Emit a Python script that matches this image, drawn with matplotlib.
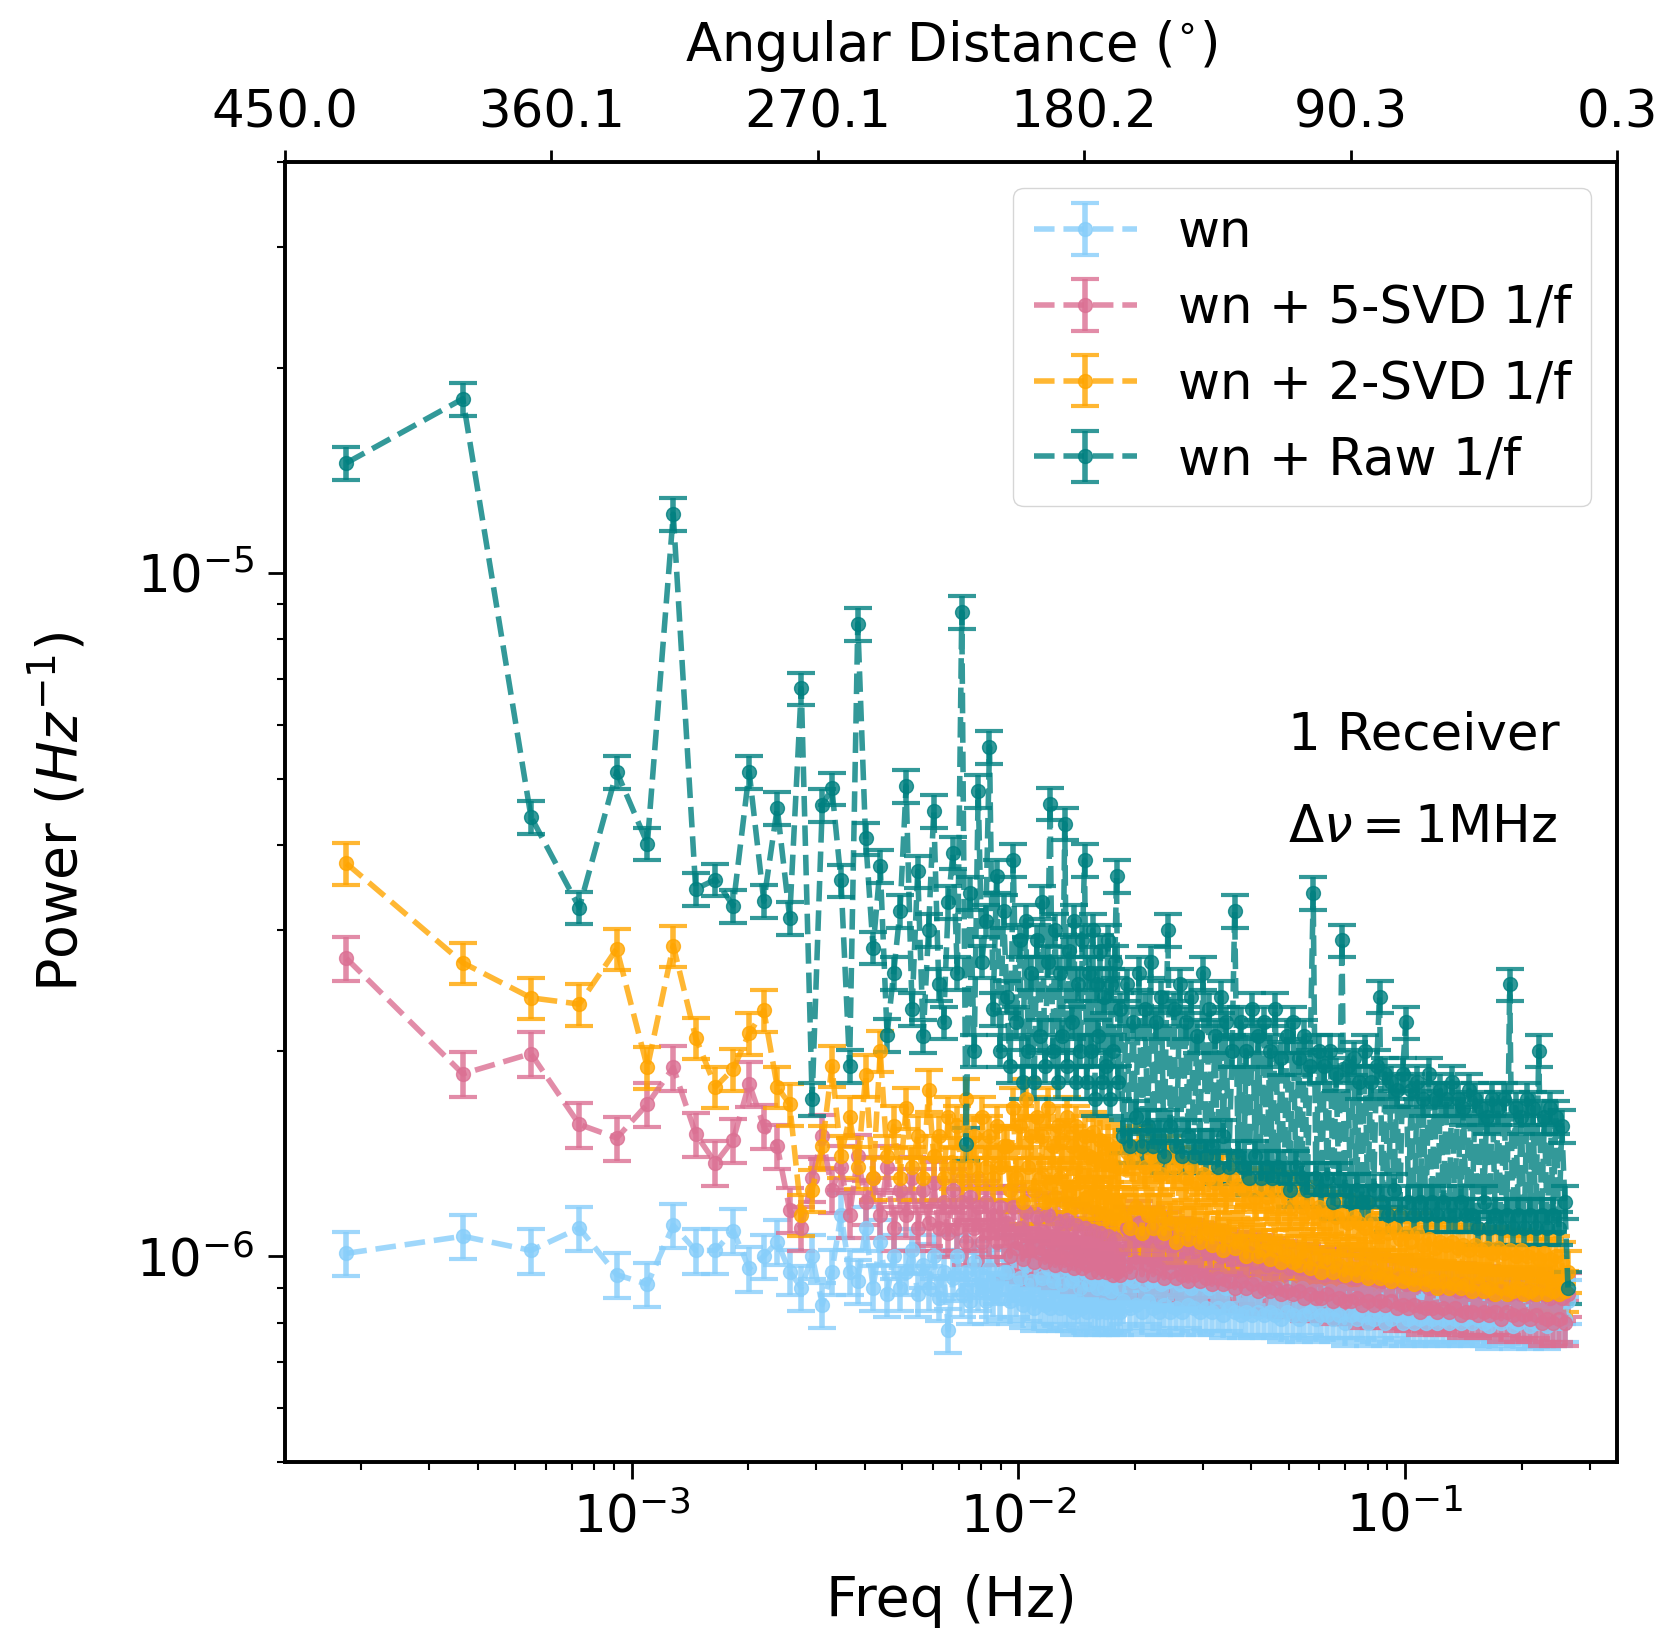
import numpy as np
import matplotlib
matplotlib.use('Agg')
import matplotlib.pyplot as plt

# frequency grid: index k of the FFT bin, f = k * df
df = 1.83e-4  # Hz
k_idx = [1, 2, 3, 4, 5, 6, 7, 8, 9, 10,
         11, 12, 13, 14, 15, 16, 17, 18, 19, 20,
         21, 22, 23, 24, 25, 26, 27, 28, 29, 30,
         31, 32, 33, 34, 35, 36, 37, 38, 39, 40,
         41, 42, 43, 44, 45, 46, 47, 48, 49, 50,
         51, 52, 53, 54, 55, 56, 57, 58, 59, 60,
         61, 62, 63, 64, 65, 66, 67, 68, 69, 70,
         71, 72, 73, 74, 75, 76, 77, 78, 79, 80,
         81, 82, 83, 84, 85, 86, 87, 88, 89, 90,
         91, 92, 93, 94, 95, 96, 97, 98, 99, 100,
         102, 104, 106, 108, 110, 112, 114, 116, 118, 120,
         122, 124, 126, 128, 130, 133, 135, 138, 140, 143,
         145, 148, 150, 153, 155, 158, 161, 164, 167, 170,
         173, 176, 179, 182, 185, 188, 191, 195, 198, 202,
         205, 209, 212, 216, 220, 224, 228, 232, 236, 240,
         244, 248, 252, 257, 261, 266, 270, 275, 280, 285,
         290, 295, 300, 305, 310, 316, 321, 327, 332, 338,
         344, 350, 356, 362, 368, 375, 381, 388, 395, 402,
         409, 416, 423, 430, 437, 445, 453, 461, 469, 477,
         485, 494, 502, 511, 520, 529, 538, 548, 557, 567,
         577, 587, 597, 608, 618, 629, 640, 651, 662, 674,
         686, 698, 710, 722, 734, 747, 760, 773, 786, 800,
         814, 828, 842, 857, 872, 887, 902, 918, 934, 950,
         967, 984, 1001, 1018, 1036, 1054, 1072, 1091, 1110, 1129,
         1149, 1169, 1189, 1210, 1231, 1252, 1274, 1296, 1318, 1341,
         1364, 1388, 1414, 1440]

# power in units of 1e-6 Hz^-1
p_wn = [1.01, 1.07, 1.02, 1.10, 0.94, 0.91, 1.11, 1.02, 1.02, 1.09,
        0.96, 1.00, 1.05, 0.95, 0.90, 1.00, 0.85, 0.95, 1.15, 0.95,
        0.92, 1.10, 0.90, 1.05, 0.88, 1.00, 0.90, 0.95, 1.02, 0.88,
        0.97, 0.90, 1.00, 0.87, 0.95, 0.78, 0.93, 1.00, 0.88, 0.95,
        0.86, 0.98, 0.90, 0.94, 0.86, 0.96, 0.88, 0.92, 0.87, 0.95,
        0.95, 0.86, 1.00, 0.88, 0.93, 0.85, 0.97, 0.87, 0.92, 0.84,
        0.98, 0.86, 0.93, 0.85, 0.96, 0.84, 0.92, 0.86, 0.95, 0.84,
        0.91, 0.85, 0.96, 0.84, 0.92, 0.83, 0.94, 0.86, 0.90, 0.84,
        0.95, 0.83, 0.91, 0.85, 0.93, 0.84, 0.90, 0.83, 0.94, 0.85,
        0.90, 0.83, 0.92, 0.84, 0.89, 0.83, 0.93, 0.84, 0.90, 0.83,
        0.86, 0.93, 0.84, 0.92, 0.85, 0.94, 0.83, 0.91, 0.86, 0.92,
        0.84, 0.93, 0.83, 0.91, 0.85, 0.92, 0.83, 0.94, 0.84, 0.91,
        0.83, 0.92, 0.85, 0.90, 0.84, 0.92, 0.83, 0.91, 0.84, 0.90,
        0.83, 0.91, 0.84, 0.92, 0.82, 0.90, 0.84, 0.91, 0.83, 0.90,
        0.82, 0.91, 0.83, 0.90, 0.82, 0.91, 0.83, 0.89, 0.82, 0.90,
        0.83, 0.89, 0.82, 0.90, 0.81, 0.89, 0.83, 0.90, 0.82, 0.89,
        0.81, 0.90, 0.82, 0.88, 0.83, 0.89, 0.81, 0.89, 0.82, 0.88,
        0.82, 0.89, 0.81, 0.88, 0.82, 0.89, 0.80, 0.88, 0.82, 0.88,
        0.81, 0.88, 0.82, 0.89, 0.80, 0.88, 0.81, 0.87, 0.82, 0.88,
        0.80, 0.88, 0.81, 0.87, 0.82, 0.88, 0.80, 0.87, 0.81, 0.88,
        0.80, 0.87, 0.81, 0.88, 0.80, 0.87, 0.81, 0.86, 0.80, 0.87,
        0.81, 0.87, 0.80, 0.88, 0.81, 0.86, 0.80, 0.87, 0.81, 0.86,
        0.80, 0.87, 0.81, 0.86, 0.80, 0.87, 0.79, 0.86, 0.81, 0.87,
        0.80, 0.86, 0.81, 0.87, 0.79, 0.86, 0.80, 0.87, 0.81, 0.86,
        0.79, 0.86, 0.80, 0.87, 0.80, 0.86, 0.79, 0.86, 0.80, 0.85,
        0.80, 0.86, 0.81, 0.86]

p_svd5 = [2.73, 1.85, 1.98, 1.56, 1.49, 1.67, 1.89, 1.51, 1.37, 1.48,
          1.79, 1.55, 1.45, 1.17, 1.10, 1.30, 1.50, 1.25, 1.35, 1.15,
          1.40, 1.20, 1.30, 1.15, 1.35, 1.10, 1.25, 1.15, 1.30, 1.10,
          1.25, 1.12, 1.28, 1.10, 1.20, 1.08, 1.25, 1.10, 1.20, 1.05,
          1.22, 1.10, 1.18, 1.05, 1.20, 1.08, 1.15, 1.05, 1.18, 1.08,
          1.12, 1.00, 1.18, 1.03, 1.10, 0.99, 1.16, 1.02, 1.08, 0.98,
          1.14, 1.01, 1.09, 0.98, 1.15, 1.00, 1.07, 0.97, 1.12, 1.00,
          1.08, 0.97, 1.13, 0.99, 1.06, 0.96, 1.11, 0.99, 1.05, 0.96,
          1.10, 0.97, 1.05, 0.95, 1.09, 0.98, 1.04, 0.95, 1.08, 0.96,
          1.03, 0.95, 1.07, 0.96, 1.02, 0.94, 1.06, 0.95, 1.01, 0.94,
          0.97, 1.10, 0.95, 1.08, 0.98, 1.12, 0.94, 1.06, 0.97, 1.10,
          0.94, 1.07, 0.96, 1.05, 0.93, 1.08, 0.95, 1.04, 0.93, 1.06,
          0.94, 1.03, 0.92, 1.05, 0.94, 1.02, 0.92, 1.04, 0.93, 1.01,
          0.91, 1.03, 0.93, 1.00, 0.91, 1.02, 0.92, 0.99, 0.90, 1.01,
          0.92, 0.99, 0.90, 1.01, 0.91, 0.98, 0.89, 1.00, 0.90, 0.97,
          0.89, 0.99, 0.90, 0.97, 0.88, 0.98, 0.89, 0.96, 0.88, 0.97,
          0.89, 0.96, 0.87, 0.97, 0.88, 0.95, 0.87, 0.96, 0.87, 0.94,
          0.88, 0.95, 0.86, 0.96, 0.87, 0.94, 0.86, 0.95, 0.86, 0.93,
          0.87, 0.94, 0.85, 0.95, 0.86, 0.93, 0.85, 0.94, 0.86, 0.92,
          0.85, 0.93, 0.86, 0.92, 0.84, 0.93, 0.85, 0.91, 0.84, 0.92,
          0.85, 0.91, 0.83, 0.92, 0.84, 0.90, 0.84, 0.91, 0.83, 0.90,
          0.84, 0.91, 0.83, 0.90, 0.84, 0.89, 0.82, 0.91, 0.83, 0.89,
          0.83, 0.90, 0.82, 0.89, 0.83, 0.90, 0.82, 0.88, 0.83, 0.89,
          0.81, 0.89, 0.83, 0.88, 0.82, 0.89, 0.81, 0.88, 0.82, 0.89,
          0.81, 0.88, 0.82, 0.89, 0.80, 0.88, 0.81, 0.87, 0.80, 0.88,
          0.81, 0.87, 0.80, 0.88]

p_svd2 = [3.76, 2.69, 2.39, 2.34, 2.82, 1.89, 2.85, 2.09, 1.77, 1.88,
          2.12, 2.29, 1.77, 1.67, 1.15, 1.25, 1.45, 1.90, 1.40, 1.60,
          1.35, 1.84, 1.30, 2.00, 1.40, 1.55, 1.30, 1.65, 1.35, 1.50,
          1.30, 1.75, 1.40, 1.50, 1.30, 1.60, 1.35, 1.55, 1.30, 1.70,
          1.35, 1.50, 1.30, 1.60, 1.35, 1.50, 1.30, 1.55, 1.35, 1.45,
          1.45, 1.25, 1.65, 1.30, 1.55, 1.20, 1.70, 1.35, 1.50, 1.25,
          1.60, 1.30, 1.50, 1.20, 1.65, 1.28, 1.45, 1.22, 1.55, 1.30,
          1.48, 1.20, 1.60, 1.25, 1.45, 1.18, 1.55, 1.28, 1.42, 1.20,
          1.50, 1.22, 1.40, 1.18, 1.52, 1.25, 1.38, 1.16, 1.48, 1.22,
          1.40, 1.15, 1.46, 1.20, 1.36, 1.14, 1.44, 1.18, 1.35, 1.15,
          1.15, 1.42, 1.10, 1.38, 1.18, 1.45, 1.08, 1.35, 1.15, 1.40,
          1.10, 1.38, 1.15, 1.32, 1.08, 1.40, 1.12, 1.35, 1.05, 1.38,
          1.10, 1.30, 1.06, 1.35, 1.10, 1.28, 1.05, 1.32, 1.08, 1.30,
          1.04, 1.28, 1.08, 1.32, 1.02, 1.25, 1.06, 1.30, 1.03, 1.27,
          1.05, 1.25, 1.00, 1.28, 1.04, 1.22, 1.00, 1.26, 1.02, 1.22,
          0.99, 1.25, 1.02, 1.20, 0.98, 1.24, 1.00, 1.18, 0.98, 1.22,
          0.97, 1.18, 1.00, 1.20, 0.96, 1.16, 0.99, 1.18, 0.95, 1.15,
          0.98, 1.16, 0.95, 1.14, 0.97, 1.15, 0.94, 1.12, 0.96, 1.14,
          0.94, 1.12, 0.96, 1.10, 0.93, 1.13, 0.95, 1.08, 0.93, 1.10,
          0.94, 1.08, 0.92, 1.10, 0.94, 1.06, 0.92, 1.08, 0.93, 1.05,
          0.91, 1.08, 0.93, 1.04, 0.91, 1.06, 0.92, 1.03, 0.90, 1.05,
          0.92, 1.04, 0.90, 1.05, 0.91, 1.03, 0.90, 1.04, 0.91, 1.02,
          0.89, 1.04, 0.91, 1.02, 0.89, 1.03, 0.90, 1.01, 0.88, 1.03,
          0.90, 1.01, 0.88, 1.02, 0.89, 1.00, 0.90, 1.02, 0.88, 1.00,
          0.89, 1.01, 0.88, 0.99, 0.90, 1.01, 0.88, 0.99, 0.89, 1.00,
          0.88, 0.98, 0.89, 0.95]

p_raw = [14.5, 18.0, 4.40, 3.24, 5.12, 4.02, 12.2, 3.45, 3.56, 3.26,
         5.12, 3.31, 4.53, 3.13, 6.78, 1.70, 4.58, 4.84, 3.55, 1.90,
         8.43, 4.09, 2.83, 3.73, 2.11, 2.60, 3.20, 4.88, 2.30, 3.66,
         2.10, 3.00, 4.49, 2.50, 2.20, 3.30, 3.90, 2.60, 8.77, 1.46,
         3.40, 2.00, 4.80, 2.70, 3.10, 5.57, 2.30, 3.60, 2.00, 3.20,
         2.40, 1.90, 3.80, 2.20, 2.90, 1.80, 3.10, 2.00, 2.60, 1.80,
         2.90, 2.10, 3.30, 1.90, 2.70, 4.60, 2.00, 3.00, 1.80, 2.60,
         2.10, 4.30, 1.90, 2.80, 2.20, 3.10, 1.80, 2.50, 2.00, 2.90,
         3.80, 1.80, 2.60, 2.00, 3.00, 1.70, 2.50, 2.10, 2.80, 1.80,
         2.40, 1.90, 2.90, 1.70, 2.50, 2.00, 2.70, 3.60, 1.80, 2.30,
         1.50, 2.50, 1.45, 2.20, 1.60, 2.60, 1.45, 2.30, 1.55, 2.70,
         1.45, 2.20, 1.50, 2.40, 1.40, 3.00, 1.55, 2.30, 1.45, 2.50,
         1.40, 2.20, 1.50, 2.40, 1.40, 2.10, 1.45, 2.60, 1.40, 2.30,
         1.45, 2.10, 1.35, 2.40, 1.50, 2.20, 1.35, 2.00, 3.20, 1.40,
         2.20, 1.35, 2.00, 1.30, 2.30, 1.40, 2.10, 1.30, 2.20, 1.35,
         2.00, 1.30, 2.30, 1.35, 1.95, 1.30, 2.10, 1.25, 2.20, 1.35,
         1.95, 1.30, 2.10, 1.25, 1.90, 3.40, 1.30, 2.00, 1.25, 1.90,
         1.30, 2.00, 1.20, 1.85, 1.30, 2.90, 1.25, 1.90, 1.20, 1.95,
         1.25, 1.80, 1.20, 2.00, 1.20, 1.80, 1.25, 1.90, 2.40, 1.20,
         1.85, 1.15, 1.80, 1.25, 1.75, 1.15, 1.85, 2.20, 1.20, 1.75,
         1.15, 1.80, 1.20, 1.70, 1.15, 1.85, 1.20, 1.70, 1.15, 1.75,
         1.20, 1.70, 1.15, 1.80, 1.15, 1.70, 1.20, 1.65, 1.15, 1.75,
         1.15, 1.70, 1.10, 1.65, 1.20, 1.60, 1.10, 1.70, 1.15, 1.65,
         1.10, 1.70, 1.15, 2.50, 1.10, 1.65, 1.15, 1.60, 1.10, 1.70,
         1.15, 1.65, 1.10, 2.00, 1.15, 1.60, 1.10, 1.65, 1.15, 1.60,
         1.10, 1.55, 1.20, 0.90]

labels = ['wn', 'wn + 5-SVD 1/f', 'wn + 2-SVD 1/f', 'wn + Raw 1/f']
colors = ['lightskyblue', 'palevioletred', 'orange', 'teal']
rel_err = [0.075, 0.075, 0.07, 0.055]

top_labels = ['450.0', '360.1', '270.1', '180.2', '90.3', '0.3']

freq = np.array(k_idx) * df

fig = plt.figure(figsize=(16.65, 16.34), dpi=100)
ax = fig.add_axes([0.1712, 0.1053, 0.800, 0.7956])

for vals, rel, col, lab in zip([p_wn, p_svd5, p_svd2, p_raw], rel_err, colors, labels):
    p = np.array(vals) * 1e-6
    ax.errorbar(freq, p, yerr=rel * p, fmt='.--', color=col, ms=20, lw=4,
                elinewidth=4, capsize=10, capthick=3, alpha=0.8, label=lab)

ax.set_xscale('log')
ax.set_yscale('log')
ax.set_xlim(1.27e-4, 0.353)
ax.set_ylim(5e-7, 4e-5)
ax.set_xlabel('Freq (Hz)', fontsize=40, labelpad=22)
ax.set_ylabel(r'Power ($Hz^{-1}$)', fontsize=40, labelpad=34)
ax.tick_params(axis='both', which='major', labelsize=37, length=12, width=2, pad=10)
ax.tick_params(axis='both', which='minor', length=6, width=1.5)
for s in ax.spines.values():
    s.set_linewidth(2.6)

ax.legend(loc='upper right', fontsize=37)

ax.text(0.753, 0.559, '1 Receiver', transform=ax.transAxes, fontsize=37, va='center')
ax.text(0.753, 0.488, r'$\Delta\nu = $1MHz', transform=ax.transAxes, fontsize=37, va='center')

ax2 = ax.twiny()
ax2.set_xlim(0, 1)
ax2.set_xticks(np.linspace(0, 1, 6))
ax2.set_xticklabels(top_labels)
ax2.tick_params(axis='x', labelsize=37, length=9, width=2, pad=8)
ax2.set_xlabel(r'Angular Distance ($^{\circ}$)', fontsize=38, labelpad=20)
for s in ax2.spines.values():
    s.set_linewidth(2.6)

fig.savefig('out.png', dpi=100)
